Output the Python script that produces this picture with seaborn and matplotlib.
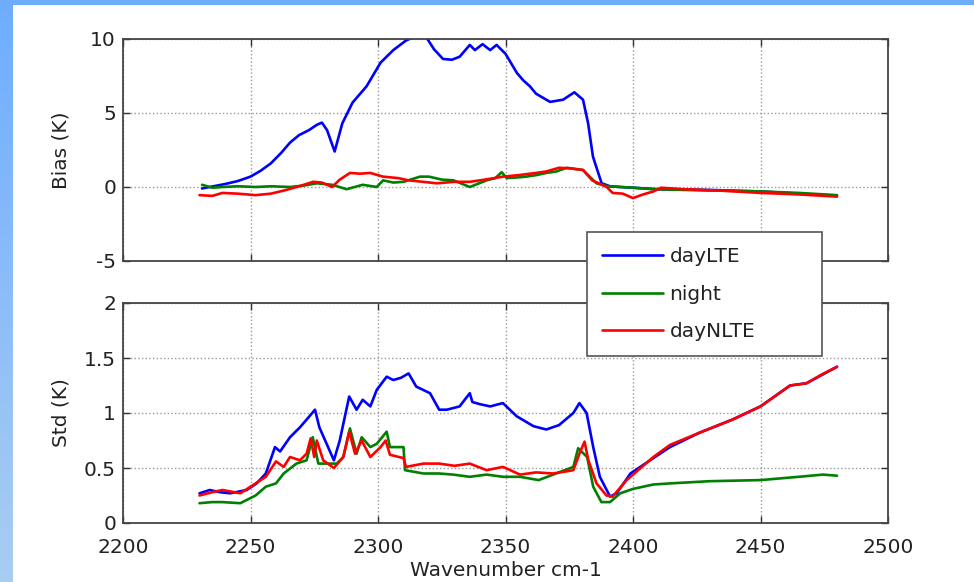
import numpy as np
import pandas as pd
import matplotlib
matplotlib.use("Agg")
import matplotlib.pyplot as plt
from matplotlib.patches import Rectangle
from matplotlib.lines import Line2D
from matplotlib.colors import LinearSegmentedColormap
import seaborn as sns

# ---------------- data ----------------
series_names = ["dayLTE", "night", "dayNLTE"]
series_colors = ["#0000FF", "#008000", "#FF0000"]

bias_daylte_x = [2231, 2234, 2240, 2245, 2250, 2254, 2258, 2262, 2265.5, 2269, 2273, 2276, 2278, 2280,
                 2283, 2286, 2290, 2295.5, 2301, 2306, 2311, 2315, 2319, 2322, 2325.5, 2329, 2332, 2336,
                 2338, 2341, 2344, 2346.5, 2350, 2354.5, 2357, 2359.6, 2362, 2367.5, 2372.6, 2377, 2380.4,
                 2382.4, 2384.3, 2387.7, 2391, 2395, 2400, 2410, 2430, 2450, 2465, 2480]
bias_daylte_y = [-0.1, 0.0, 0.2, 0.4, 0.7, 1.1, 1.6, 2.3, 3.0, 3.5, 3.85, 4.2, 4.35, 3.85,
                 2.4, 4.3, 5.7, 6.8, 8.4, 9.25, 9.9, 10.2, 10.1, 9.3, 8.65, 8.6, 8.8, 9.6,
                 9.25, 9.65, 9.25, 9.6, 9.0, 7.7, 7.2, 6.8, 6.3, 5.75, 5.9, 6.4, 5.9,
                 4.3, 2.05, 0.25, 0.05, 0.0, -0.05, -0.15, -0.2, -0.3, -0.45, -0.6]

bias_night_x = [2231, 2235, 2239, 2245, 2252, 2258, 2265.5, 2271, 2276, 2282, 2287.7, 2294, 2299.5, 2302,
                2306, 2310, 2316.5, 2320, 2325, 2329.6, 2336, 2342.6, 2346, 2348.5, 2350.5, 2355, 2358,
                2362, 2366, 2370, 2374, 2378, 2380.4, 2383, 2385.7, 2390, 2395, 2400, 2408, 2420, 2435,
                2450, 2465, 2480]
bias_night_y = [0.15, -0.05, 0.0, 0.05, 0.0, 0.05, 0.0, 0.1, 0.25, 0.15, -0.15, 0.15, 0.0, 0.45,
                0.3, 0.35, 0.7, 0.7, 0.5, 0.45, 0.0, 0.45, 0.6, 1.0, 0.6, 0.65, 0.7,
                0.8, 0.95, 1.05, 1.3, 1.2, 1.15, 0.7, 0.25, 0.05, 0.0, -0.05, -0.15, -0.2, -0.25,
                -0.3, -0.4, -0.55]

bias_daynlte_x = [2230, 2235, 2239, 2245, 2252, 2258, 2264, 2270, 2274.6, 2278, 2282, 2285, 2289, 2293,
                  2297, 2302, 2308, 2312, 2317.6, 2323, 2330, 2336, 2342, 2349, 2355, 2362, 2366, 2371,
                  2376, 2380.4, 2384, 2389.7, 2392, 2396, 2400, 2404, 2408, 2411, 2420, 2435, 2450,
                  2465, 2480]
bias_daynlte_y = [-0.55, -0.6, -0.4, -0.45, -0.55, -0.45, -0.2, 0.1, 0.35, 0.3, 0.0, 0.5, 0.95, 0.9,
                  0.95, 0.7, 0.6, 0.45, 0.35, 0.25, 0.35, 0.35, 0.5, 0.7, 0.8, 0.95, 1.05, 1.3,
                  1.25, 1.15, 0.45, 0.0, -0.4, -0.45, -0.75, -0.5, -0.3, -0.05, -0.15, -0.25, -0.4,
                  -0.5, -0.65]

std_daylte_x = [2230, 2234, 2238, 2242, 2248.5, 2252.4, 2256, 2259.6, 2261.6, 2265.5, 2269.4, 2272, 2275.3,
                2277, 2282.7, 2285, 2288.7, 2291.6, 2294, 2297, 2299.5, 2303.4, 2306, 2309, 2312, 2315,
                2320.4, 2324, 2327, 2332, 2336, 2337, 2340, 2344, 2349, 2354.4, 2361, 2366, 2371, 2376.6,
                2379, 2381.8, 2384.4, 2387, 2391, 2393.6, 2399, 2406.7, 2414.5, 2426, 2439, 2450,
                2461.6, 2468, 2480]
std_daylte_y = [0.27, 0.3, 0.28, 0.27, 0.3, 0.36, 0.45, 0.69, 0.65, 0.78, 0.87, 0.94, 1.03,
                0.87, 0.57, 0.75, 1.15, 1.03, 1.12, 1.06, 1.21, 1.33, 1.3, 1.32, 1.36, 1.24,
                1.18, 1.03, 1.03, 1.06, 1.18, 1.1, 1.08, 1.06, 1.09, 0.97, 0.88, 0.85, 0.89, 1.0,
                1.09, 1.0, 0.69, 0.42, 0.24, 0.27, 0.45, 0.57, 0.69, 0.82, 0.94, 1.06,
                1.25, 1.27, 1.42]

std_night_x = [2230, 2235, 2239, 2246, 2252, 2256, 2260, 2263, 2268, 2272, 2274.4, 2276.6, 2281, 2283.8,
               2286.4, 2289, 2291.6, 2293.6, 2297, 2299.5, 2303.4, 2304.7, 2310, 2310.6, 2317.8, 2324,
               2329.5, 2336, 2342.6, 2349, 2355.7, 2363, 2368.7, 2376.6, 2378.5, 2382, 2384.4, 2387.6,
               2391, 2395, 2400, 2408, 2414.5, 2430, 2450, 2465, 2474.5, 2480]
std_night_y = [0.18, 0.19, 0.19, 0.18, 0.25, 0.33, 0.36, 0.45, 0.54, 0.57, 0.78, 0.54, 0.54, 0.54,
               0.6, 0.86, 0.63, 0.78, 0.69, 0.72, 0.83, 0.69, 0.69, 0.48, 0.45, 0.45,
               0.44, 0.42, 0.44, 0.42, 0.42, 0.39, 0.44, 0.51, 0.68, 0.6, 0.33, 0.19,
               0.19, 0.27, 0.31, 0.35, 0.36, 0.38, 0.39, 0.42, 0.44, 0.43]

std_daynlte_x = [2230, 2235, 2239, 2246, 2252, 2256, 2260, 2263, 2265.5, 2269.4, 2272, 2273.6, 2275, 2276,
                 2278.5, 2282.7, 2286.4, 2288.7, 2291, 2293.6, 2297, 2301, 2303, 2304.7, 2310, 2311,
                 2317.8, 2324, 2330, 2336, 2342.6, 2349, 2355.7, 2362, 2368.7, 2376.6, 2379, 2381,
                 2382.5, 2385.7, 2389.6, 2392, 2397.5, 2403, 2408, 2414.5, 2426, 2439, 2450, 2461.6,
                 2468, 2474, 2480]
std_daynlte_y = [0.25, 0.28, 0.3, 0.27, 0.36, 0.42, 0.56, 0.51, 0.6, 0.57, 0.63, 0.77, 0.6, 0.75,
                 0.57, 0.5, 0.6, 0.83, 0.63, 0.75, 0.6, 0.69, 0.75, 0.62, 0.59, 0.51,
                 0.54, 0.54, 0.52, 0.54, 0.48, 0.51, 0.44, 0.46, 0.45, 0.48, 0.63, 0.74,
                 0.57, 0.36, 0.25, 0.24, 0.39, 0.5, 0.6, 0.71, 0.82, 0.94, 1.06, 1.25,
                 1.27, 1.35, 1.42]

x_ticks = [2200, 2250, 2300, 2350, 2400, 2450, 2500]
bias_ticks = [-5, 0, 5, 10]
std_ticks = [0, 0.5, 1, 1.5, 2]
std_tick_labels = ["0", "0.5", "1", "1.5", "2"]

# ---------------- figure ----------------
sns.set_theme(style="white")
plt.rcParams["font.family"] = ["DejaVu Sans"]
plt.rcParams["axes.unicode_minus"] = False
FS = 14.5

W, H = 974, 582
fig = plt.figure(figsize=(W / 100, H / 100), dpi=100)

# slide-style background: blue gradient strip on left / top, white panel
bg = fig.add_axes([0, 0, 1, 1], zorder=-10)
cmap = LinearSegmentedColormap.from_list("slide", ["#6EADFF", "#A9CDF2"])
bg.imshow(np.linspace(0, 1, 256).reshape(-1, 1), aspect="auto", cmap=cmap,
          extent=[0, 1, 0, 1], origin="upper")
bg.add_patch(Rectangle((13 / W, 0), 1, 1 - 5 / H, facecolor="white", edgecolor="none"))
bg.set_xlim(0, 1)
bg.set_ylim(0, 1)
bg.axis("off")

left = 123 / W
width = (888 - 123) / W
ax1 = fig.add_axes([left, 1 - 261 / H, width, 222 / H])
ax2 = fig.add_axes([left, 1 - 523 / H, width, 220 / H])

bias_sets = [(bias_daylte_x, bias_daylte_y), (bias_night_x, bias_night_y),
             (bias_daynlte_x, bias_daynlte_y)]
std_sets = [(std_daylte_x, std_daylte_y), (std_night_x, std_night_y),
            (std_daynlte_x, std_daynlte_y)]

for (xs, ys), name, col in zip(bias_sets, series_names, series_colors):
    df = pd.DataFrame({"x": xs, "y": ys})
    sns.lineplot(data=df, x="x", y="y", ax=ax1, color=col, linewidth=1.9,
                 sort=False, estimator=None, legend=False)
for (xs, ys), name, col in zip(std_sets, series_names, series_colors):
    df = pd.DataFrame({"x": xs, "y": ys})
    sns.lineplot(data=df, x="x", y="y", ax=ax2, color=col, linewidth=1.9,
                 sort=False, estimator=None, legend=False)

for ax in (ax1, ax2):
    ax.set_xlim(2200, 2500)
    ax.set_xticks(x_ticks)
    ax.grid(True, linestyle=":", color="#999999", linewidth=1.0)
    ax.tick_params(direction="in", length=5, width=1.0, top=True, right=True,
                   bottom=True, left=True, labelsize=FS, colors="#333333",
                   labelcolor="#222222")
    ax.tick_params(axis="y", pad=5)
    ax.tick_params(axis="x", pad=11)
    for sp in ax.spines.values():
        sp.set_color("#444444")
        sp.set_linewidth(1.3)
    ax.set_facecolor("white")

ax1.set_ylim(-5, 10)
ax1.set_yticks(bias_ticks)
ax1.set_xticklabels([])
ax1.set_xlabel("")
ax1.set_ylabel("Bias (K)", fontsize=FS, color="#222222", labelpad=14)

ax2.set_ylim(0, 2)
ax2.set_yticks(std_ticks)
ax2.set_yticklabels(std_tick_labels)
ax2.set_xlabel("Wavenumber cm-1", fontsize=FS, color="#222222", labelpad=3)
ax2.set_ylabel("Std (K)", fontsize=FS, color="#222222", labelpad=10)

handles = [Line2D([0], [0], color=c, linewidth=1.9) for c in series_colors]
lx0, lx1 = 587 / W, 822 / W
ly1 = 1 - 232 / H
leg = fig.legend(handles, series_names, loc="upper left", mode="expand",
                 bbox_to_anchor=(lx0, ly1 - 0.2, lx1 - lx0, 0.2), bbox_transform=fig.transFigure,
                 fontsize=FS, frameon=True, fancybox=False, framealpha=1,
                 edgecolor="#555555", handlelength=3.0, labelspacing=0.92,
                 borderpad=0.75, handletextpad=0.35, borderaxespad=0)
leg.get_frame().set_linewidth(1.2)
for t in leg.get_texts():
    t.set_color("#222222")

fig.savefig("out.png", dpi=100)
